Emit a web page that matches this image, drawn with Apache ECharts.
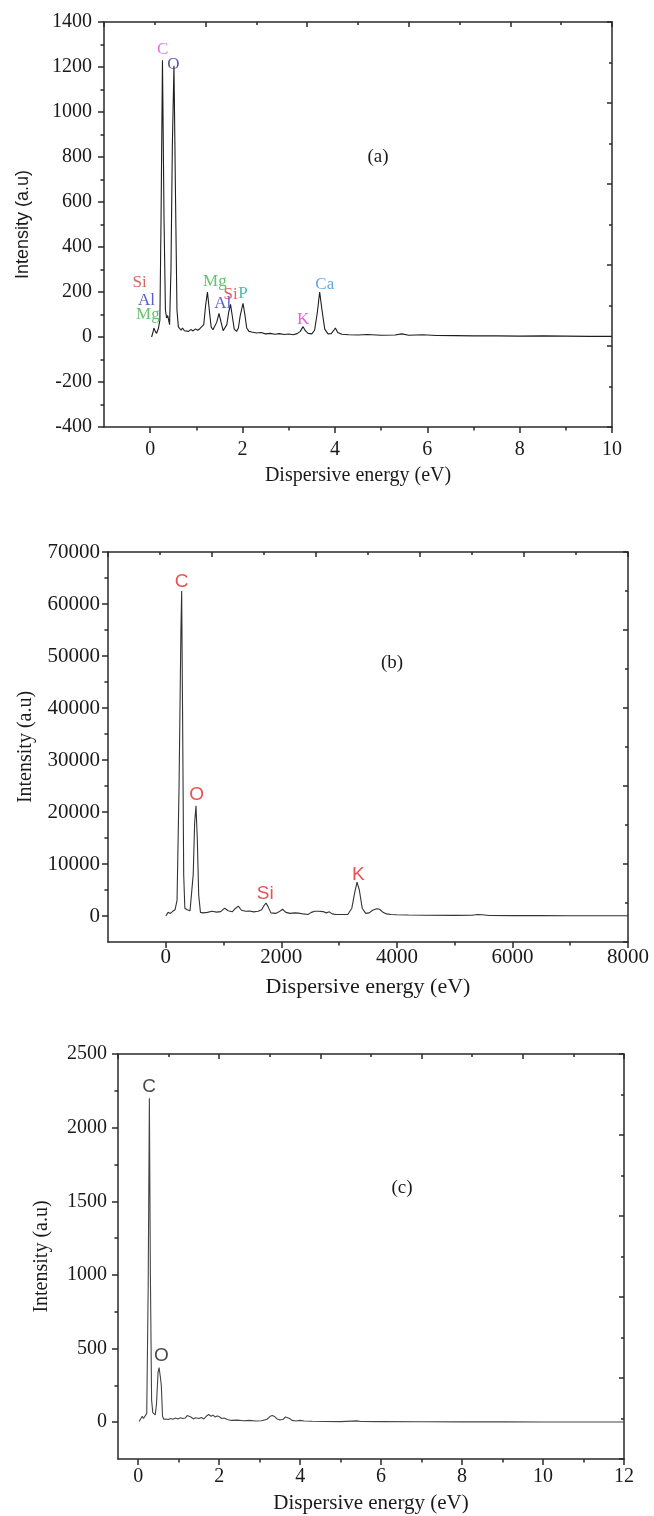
<!DOCTYPE html>
<html>
<head>
<meta charset="utf-8">
<title>EDX spectra (a)-(c)</title>
<script src="https://cdn.jsdelivr.net/npm/echarts@6/dist/echarts.min.js"></script>
<style>
  html, body { margin: 0; padding: 0; background: #fff; }
  #chart { width: 654px; height: 1516px; }
</style>
</head>
<body>
<div id="chart"></div>
<script>
// ---------- Spectrum (a) ----------
const energyA = [0.03,0.06,0.08,0.11,0.14,0.18,0.21,0.235,0.266,0.30,0.33,0.355,0.38,0.40,0.42,0.45,0.48,0.515,0.55,0.58,
  0.61,0.64,0.67,0.70,0.74,0.78,0.83,0.88,0.93,0.98,1.03,1.08,1.12,1.16,1.20,1.24,1.28,1.32,1.36,1.40,
  1.44,1.49,1.53,1.58,1.62,1.66,1.70,1.74,1.78,1.82,1.87,1.91,1.95,2.01,2.05,2.09,2.14,2.2,2.3,2.4,
  2.5,2.6,2.7,2.8,2.9,3.0,3.1,3.18,3.25,3.31,3.36,3.42,3.5,3.56,3.62,3.67,3.72,3.78,3.85,3.92,
  3.97,4.01,4.06,4.15,4.3,4.5,4.7,5.0,5.3,5.45,5.6,5.9,6.2,6.6,7.0,7.5,8.0,8.5,9.0,9.5,10.0];
const intensityA = [0,20,40,25,16,40,75,520,1230,520,120,85,95,75,55,300,850,1205,600,120,
  45,38,30,40,28,35,25,33,27,36,30,38,34,55,140,200,120,45,32,40,
  65,105,70,28,32,55,110,145,90,35,25,40,95,150,100,40,25,22,18,20,
  14,16,12,15,11,13,10,15,25,46,28,16,14,30,110,200,120,35,14,15,
  28,40,20,12,10,9,11,8,9,14,8,10,7,6,5,5,4,5,4,3,3];
const peakNamesA = ['C','O','Si','Al','Mg','Mg','Al','Si','P','K','Ca'];
const peakEnergyA = [0.27,0.50,-0.23,-0.08,-0.05,1.40,1.57,1.74,2.01,3.31,3.78];
const peakIntensityA = [1276,1209,240,164,98,246,150,187,191,76,231];
const xMajorA = [0,2,4,6,8,10];
const xMinorA = [1,3,5,7,9];
const yMajorA = [-400,-200,0,200,400,600,800,1000,1200,1400];
const yMinorA = [-300,-100,100,300,500,700,900,1100,1300];

// ---------- Spectrum (b) ----------
const energyB = [0,40,80,120,160,195,230,262,275,290,310,330,370,420,450,475,500,523,545,570,
  600,650,720,800,880,950,1020,1080,1150,1200,1255,1310,1380,1450,1520,1600,1660,1700,1735,1770,
  1820,1900,1960,2020,2080,2150,2230,2300,2380,2460,2520,2580,2650,2720,2780,2830,2880,2950,3050,3150,
  3220,3270,3310,3350,3400,3460,3520,3580,3650,3700,3760,3820,3900,4000,4200,4500,5000,5300,5400,5480,
  5600,6000,6500,7000,7500,8000];
const intensityB = [0,700,500,900,1200,3000,25000,55000,62500,40000,8000,1500,1200,1000,1200,8000,18000,21200,15000,4000,
  700,600,700,900,750,850,1500,1000,800,1400,1900,1100,900,950,800,900,1200,2000,2500,1800,
  600,500,800,1300,700,500,600,550,400,300,700,900,900,850,600,800,400,300,300,300,
  1500,4500,6500,5000,1500,500,600,1100,1400,1300,700,400,300,250,180,150,120,150,300,250,
  100,80,70,60,50,50];
const peakNamesB = ['C','O','Si','K'];
const peakEnergyB = [275,534,1720,3333];
const peakIntensityB = [64290,23270,4360,7880];
const xMajorB = [0,2000,4000,6000,8000];
const xMinorB = [1000,3000,5000,7000];
const yMajorB = [0,10000,20000,30000,40000,50000,60000,70000];
const yMinorB = [5000,15000,25000,35000,45000,55000,65000];

// ---------- Spectrum (c) ----------
const energyC = [0.02,0.06,0.10,0.13,0.17,0.21,0.245,0.275,0.30,0.33,0.36,0.39,0.42,0.45,0.49,0.515,0.545,0.57,0.6,0.63,
  0.68,0.74,0.8,0.86,0.92,0.98,1.04,1.1,1.16,1.21,1.25,1.3,1.36,1.42,1.5,1.56,1.62,1.68,1.74,1.8,
  1.85,1.9,1.95,2.0,2.06,2.12,2.2,2.3,2.45,2.6,2.75,2.9,3.05,3.18,3.26,3.31,3.37,3.43,3.5,3.58,
  3.64,3.68,3.74,3.8,3.9,4.0,4.1,4.3,4.6,5.0,5.4,5.5,6.0,7.0,8.0,9.0,10.0,11.0,12.0];
const intensityC = [5,15,40,25,35,60,900,2200,1000,150,65,55,50,120,340,370,310,250,40,20,
  22,18,25,20,28,22,30,25,28,45,58,35,22,30,25,32,22,40,52,40,
  48,35,42,38,25,28,18,12,14,10,12,8,10,20,40,45,38,22,15,20,
  35,37,25,12,8,12,8,6,5,4,9,5,4,3,2,2,1,1,1];
const peakNamesC = ['C','O'];
const peakEnergyC = [0.27,0.57];
const peakIntensityC = [2280,452];
const xMajorC = [0,2,4,6,8,10,12];
const xMinorC = [1,3,5,7,9,11];
const yMajorC = [0,500,1000,1500,2000,2500];
const yMinorC = [250,750,1250,1750,2250];

// ---------- styling ----------
const SERIF = "'Liberation Serif', 'Times New Roman', serif";
const SANS = "'Liberation Sans', Arial, sans-serif";
const INK = '#1a1a1a';
const AXIS = '#2a2a2a';
const colorsA = { C: '#e24fcf', O: '#2c2f96', Si: '#d63a3c', Al: '#2b34c4', Mg: '#3db24a', P: '#1fa8a0', K: '#e23cce', Ca: '#3a90dc' };

const grids = [
  { left: 104, top: 22, width: 508, height: 405 },
  { left: 108, top: 552, width: 520, height: 390 },
  { left: 118, top: 1054, width: 506, height: 405 }
];

const panels = [
  { xMin: -1, xMax: 10, yMin: -400, yMax: 1400, xMajor: xMajorA, xMinor: xMinorA, yMajor: yMajorA, yMinor: yMinorA,
    energy: energyA, intensity: intensityA, lineColor: '#1e1e1e',
    names: peakNamesA, pe: peakEnergyA, pi: peakIntensityA,
    labelColor: n => colorsA[n], labelFont: SERIF, labelSize: 17,
    yName: 'Intensity (a.u)', yNameFont: SANS, yNameSize: 18, yNameGap: 72,
    xNameGap: 39, xNameSize: 20, xLabelMargin: 13, yLabelMargin: 12, tickSize: 20 },
  { xMin: -1000, xMax: 8000, yMin: -5000, yMax: 70000, xMajor: xMajorB, xMinor: xMinorB, yMajor: yMajorB, yMinor: yMinorB,
    energy: energyB, intensity: intensityB, lineColor: '#333333',
    names: peakNamesB, pe: peakEnergyB, pi: peakIntensityB,
    labelColor: () => '#e3262a', labelFont: SANS, labelSize: 19,
    yName: 'Intensity (a.u)', yNameFont: SERIF, yNameSize: 20, yNameGap: 72,
    xNameGap: 34, xNameSize: 22, xLabelMargin: 5, yLabelMargin: 8, tickSize: 21 },
  { xMin: -0.5, xMax: 12, yMin: -250, yMax: 2500, xMajor: xMajorC, xMinor: xMinorC, yMajor: yMajorC, yMinor: yMinorC,
    energy: energyC, intensity: intensityC, lineColor: '#444444',
    names: peakNamesC, pe: peakEnergyC, pi: peakIntensityC,
    labelColor: () => '#1a1a1a', labelFont: SANS, labelSize: 19,
    yName: 'Intensity (a.u)', yNameFont: SERIF, yNameSize: 20, yNameGap: 66,
    xNameGap: 34, xNameSize: 21, xLabelMargin: 8, yLabelMargin: 11, tickSize: 20 }
];

const xAxes = [];
const yAxes = [];
const series = [];

const lineStyleAxis = { color: AXIS, width: 1.5 };

panels.forEach((p, i) => {
  // bottom axis: labels + major ticks
  xAxes.push({
    gridIndex: i, type: 'value', position: 'bottom', min: p.xMin, max: p.xMax,
    axisLine: { onZero: false, lineStyle: lineStyleAxis },
    axisTick: { customValues: p.xMajor, length: 6, lineStyle: lineStyleAxis },
    axisLabel: { customValues: p.xMajor, formatter: v => String(v), margin: p.xLabelMargin,
                 fontFamily: SERIF, fontSize: p.tickSize, color: INK },
    splitLine: { show: false },
    name: 'Dispersive energy (eV)', nameLocation: 'middle', nameGap: p.xNameGap,
    nameTextStyle: { fontFamily: SERIF, fontSize: p.xNameSize, color: INK }
  });
  // bottom axis: minor ticks
  xAxes.push({
    gridIndex: i, type: 'value', position: 'bottom', min: p.xMin, max: p.xMax,
    axisLine: { show: false, onZero: false },
    axisTick: { customValues: p.xMinor, length: 3.5, lineStyle: lineStyleAxis },
    axisLabel: { show: false }, splitLine: { show: false }
  });
  // top frame with inward ticks
  xAxes.push({
    gridIndex: i, type: 'value', position: 'top', min: 0, max: 10, interval: 2,
    axisLine: { onZero: false, lineStyle: lineStyleAxis },
    axisTick: { inside: true, length: 5, lineStyle: lineStyleAxis },
    minorTick: { show: true, splitNumber: 2, length: 3, lineStyle: lineStyleAxis },
    axisLabel: { show: false }, splitLine: { show: false }
  });

  // left axis: labels + major ticks
  yAxes.push({
    gridIndex: i, type: 'value', position: 'left', min: p.yMin, max: p.yMax,
    axisLine: { onZero: false, lineStyle: lineStyleAxis },
    axisTick: { customValues: p.yMajor, length: 6, lineStyle: lineStyleAxis },
    axisLabel: { customValues: p.yMajor, formatter: v => String(v), margin: p.yLabelMargin,
                 fontFamily: SERIF, fontSize: p.tickSize, color: INK },
    splitLine: { show: false },
    name: p.yName, nameLocation: 'middle', nameGap: p.yNameGap,
    nameTextStyle: { fontFamily: p.yNameFont, fontSize: p.yNameSize, color: INK }
  });
  // left axis: minor ticks
  yAxes.push({
    gridIndex: i, type: 'value', position: 'left', min: p.yMin, max: p.yMax,
    axisLine: { show: false, onZero: false },
    axisTick: { customValues: p.yMinor, length: 3.5, lineStyle: lineStyleAxis },
    axisLabel: { show: false }, splitLine: { show: false }
  });
  // right frame with inward ticks
  yAxes.push({
    gridIndex: i, type: 'value', position: 'right', min: 0, max: 10, interval: 2,
    axisLine: { onZero: false, lineStyle: lineStyleAxis },
    axisTick: { inside: true, length: 5, lineStyle: lineStyleAxis },
    minorTick: { show: true, splitNumber: 2, length: 3, lineStyle: lineStyleAxis },
    axisLabel: { show: false }, splitLine: { show: false }
  });

  // spectrum trace
  series.push({
    type: 'line', xAxisIndex: 3 * i, yAxisIndex: 3 * i,
    data: p.energy.map((e, k) => [e, p.intensity[k]]),
    showSymbol: false, symbol: 'none', smooth: false, silent: true,
    lineStyle: { color: p.lineColor, width: 1.1 }, z: 3
  });

  // element labels on the peaks
  series.push({
    type: 'scatter', xAxisIndex: 3 * i, yAxisIndex: 3 * i,
    symbolSize: 0, silent: true, z: 4,
    data: p.names.map((n, k) => ({
      value: [p.pe[k], p.pi[k]],
      label: { color: p.labelColor(n) }
    })),
    label: {
      show: true, position: 'inside',
      formatter: q => p.names[q.dataIndex],
      fontFamily: p.labelFont, fontSize: p.labelSize
    }
  });
});

const panelTag = (text, x, y) => ({
  type: 'text', x: x, y: y,
  style: { text: text, font: "19px 'Liberation Serif', serif", fill: INK, align: 'center', verticalAlign: 'middle' }
});

const chart = echarts.init(document.getElementById('chart'), null, { renderer: 'canvas' });
chart.setOption({
  backgroundColor: '#ffffff',
  animation: false,
  grid: grids,
  xAxis: xAxes,
  yAxis: yAxes,
  series: series,
  graphic: [
    panelTag('(a)', 378, 157),
    panelTag('(b)', 392, 663),
    panelTag('(c)', 402, 1188)
  ]
});
</script>
</body>
</html>
